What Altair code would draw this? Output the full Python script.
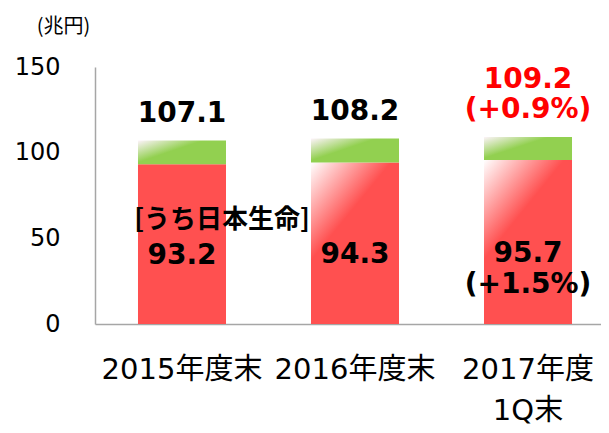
import altair as alt
import pandas as pd

# ---- data ----
periods = ["2015年度末", "2016年度末", "2017年度\n1Q末"]
nissay = [93.2, 94.3, 95.7]          # 日本生命 portion (red)
total = [107.1, 108.2, 109.2]        # group total (top of green)
total_change = ["", "", "(+0.9%)"]
nissay_change = ["", "", "(+1.5%)"]
note = ["[うち日本生命]", "", ""]
y_ticks = [0, 50, 100, 150]
unit = "(兆円)"

df = pd.DataFrame({
    "period": periods,
    "nissay": nissay,
    "total": total,
    "total_change": total_change,
    "nissay_change": nissay_change,
    "note": note,
})

RED = "#FF5050"
GREEN = "#92D050"
GRAY = "#A6A6A6"
NUM_FONT = "DejaVu Sans, Noto Sans CJK JP"

x_enc = alt.X(
    "period:N",
    sort=periods,
    scale=alt.Scale(range=[0, 520], paddingInner=0.4913, paddingOuter=0.2485),
    axis=alt.Axis(
        title=None, labelAngle=0, ticks=False, tickSize=0,
        domainColor=GRAY, domainWidth=1.5,
        labelFont=NUM_FONT, labelFontSize=29, labelColor="black",
        labelPadding=31, labelLineHeight=41, labelOverlap=False, labelLimit=0,
        labelExpr="split(datum.label, '\\n')",
    ),
)

y_axis = alt.Axis(
    values=y_ticks, grid=False, ticks=False, tickSize=0,
    domainColor=GRAY, domainWidth=1.5,
    labelFont="DejaVu Sans", labelFontSize=24, labelColor="black", labelPadding=35,
    title=unit, titleAngle=0, titleX=-32, titleY=-41, titleAlign="center",
    titleBaseline="middle", titleFont="Noto Sans CJK JP", titleFontSize=20,
    titleFontWeight="normal", titleColor="black",
)
y_scale = alt.Scale(domain=[0, 150], nice=False, zero=True)

red_grad = alt.LinearGradient(
    gradient="linear", x1=0, y1=0, x2=0.28, y2=0.42,
    stops=[alt.GradientStop(offset=0, color="#FFFFFF"),
           alt.GradientStop(offset=1, color=RED)],
)
green_grad = alt.LinearGradient(
    gradient="linear", x1=0, y1=0, x2=0.45, y2=0.36,
    stops=[alt.GradientStop(offset=0, color="#FDF3FA"),
           alt.GradientStop(offset=1, color=GREEN)],
)

base = alt.Chart(df).transform_calculate(
    half="datum.nissay / 2",
    total_label="format(datum.total, '.1f')",
    val_label="format(datum.nissay, '.1f')",
)

y_nissay = alt.Y("nissay:Q", scale=y_scale, axis=y_axis)
y_total = alt.Y("total:Q", scale=y_scale, axis=y_axis)
y_half = alt.Y("half:Q", scale=y_scale, axis=y_axis)

red_solid = base.transform_filter(alt.datum.period == periods[0]).mark_bar(color=RED).encode(
    x=x_enc, y=y_nissay
)
red_fade = base.transform_filter(alt.datum.period != periods[0]).mark_bar(color=red_grad).encode(
    x=x_enc, y=y_nissay
)
green = base.mark_bar(color=green_grad).encode(x=x_enc, y=y_nissay, y2="total:Q")

num_style = dict(font=NUM_FONT, fontSize=28, fontWeight="bold")

top_plain = base.transform_filter("datum.total_change == ''").mark_text(
    baseline="bottom", dy=-13, color="#000000", **num_style
).encode(x=x_enc, y=y_total, text="total_label:N")

top_chg_val = base.transform_filter("datum.total_change != ''").mark_text(
    baseline="bottom", dy=-43, color="#FF0000", **num_style
).encode(x=x_enc, y=y_total, text="total_label:N")

top_chg_pct = base.transform_filter("datum.total_change != ''").mark_text(
    baseline="bottom", dy=-13, color="#FF0000", **num_style
).encode(x=x_enc, y=y_total, text="total_change:N")

val_text = base.mark_text(
    baseline="alphabetic", dy=20, color="black", **num_style
).encode(x=x_enc, y=y_half, text="val_label:N")

pct_text = base.mark_text(
    baseline="alphabetic", dy=51, color="black", **num_style
).encode(x=x_enc, y=y_half, text="nissay_change:N")

note_text = base.mark_text(
    font="Noto Sans CJK JP", fontSize=26, fontWeight="bold", baseline="alphabetic",
    dy=-16, dx=40, color="black",
).encode(x=x_enc, y=y_half, text="note:N")

chart = alt.layer(
    red_solid, red_fade, green, top_plain, top_chg_val, top_chg_pct,
    val_text, pct_text, note_text
).properties(
    width=506, height=257,
    autosize=alt.AutoSizeParams(type="none"),
    padding={"left": 87, "top": 59, "right": 0, "bottom": 101},
    background="white",
).configure_view(stroke=None)

chart.save("out.html", embed_options={"renderer": "svg", "actions": False})
